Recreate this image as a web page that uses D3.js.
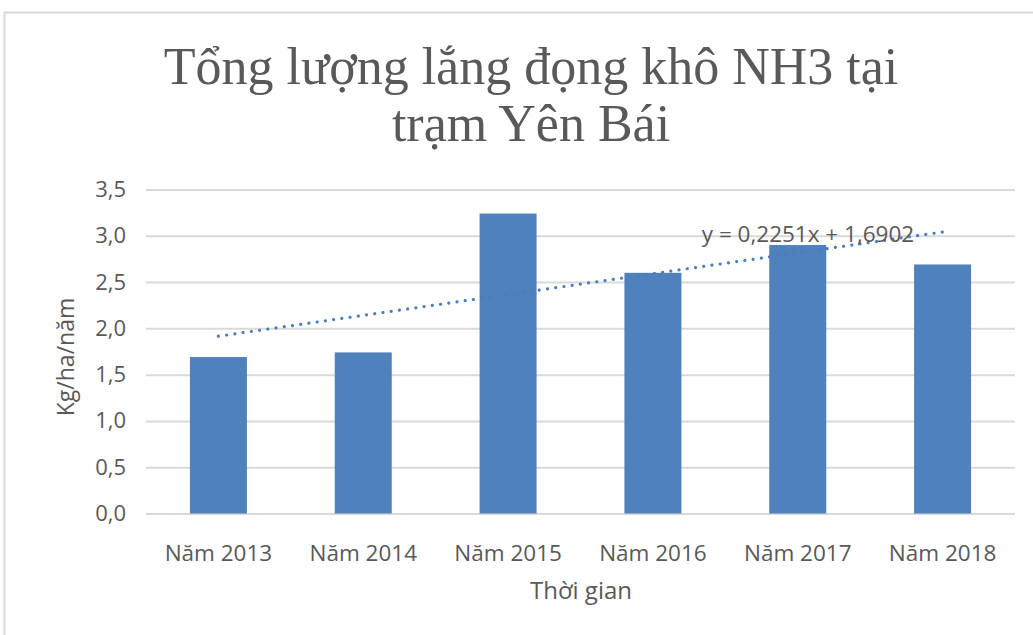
<!DOCTYPE html>
<html>
<head>
<meta charset="utf-8">
<script src="https://cdn.jsdelivr.net/npm/d3@7"></script>
<style>
  body { margin: 0; background: #fff; }
  svg { display: block; }
</style>
</head>
<body>
<div class="chart"></div>
<script>
// data
const categories = ["Năm 2013", "Năm 2014", "Năm 2015", "Năm 2016", "Năm 2017", "Năm 2018"];
const values = [1.69, 1.74, 3.24, 2.60, 2.90, 2.69];
const yTicks = [0, 0.5, 1, 1.5, 2, 2.5, 3, 3.5];
const titleLines = ["Tổng lượng lắng đọng khô NH3 tại", "trạm Yên Bái"];
const trendSlope = 0.2251, trendIntercept = 1.6902;

const width = 1033, height = 635;
const margin = { top: 189.5, right: 18, bottom: 121.5, left: 146 };
const w = width - margin.left - margin.right,
  h = height - margin.top - margin.bottom;

const textColor = "#595959";
const sans = "'Open Sans', sans-serif";

let svg = d3
  .select(".chart")
  .append("svg")
  .attr("width", width)
  .attr("height", height);

// chart frame (only top/left edges visible in the crop)
svg.append("rect")
  .attr("x", 4.5).attr("y", 12.5)
  .attr("width", width + 20).attr("height", height + 20)
  .attr("fill", "#fff")
  .attr("stroke", "#d9d9d9")
  .attr("stroke-width", 2);

// title
svg.append("g")
  .selectAll("text")
  .data(titleLines)
  .enter()
  .append("text")
  .attr("x", 531)
  .attr("y", (d, i) => 84 + i * 57)
  .attr("text-anchor", "middle")
  .attr("font-family", "'Liberation Serif', 'Times New Roman', serif")
  .attr("font-size", 52)
  .attr("fill", textColor)
  .text(d => d);

let g = svg.append("g")
  .attr("transform", "translate(" + margin.left + "," + margin.top + ")");

const xc = d3.scaleBand().domain(categories).range([0, w]);
const y = d3.scaleLinear().domain([0, 3.5]).range([h, 0]);

const fmt = d => d3.format(".1f")(d).replace(".", ",");

// gridlines + y labels
const yAxis = d3.axisLeft(y).tickValues(yTicks).tickSize(-w).tickPadding(20).tickFormat(fmt);
g.append("g")
  .attr("class", "y axis")
  .call(yAxis)
  .call(s => s.select(".domain").remove())
  .call(s => s.selectAll("line").attr("stroke", "#d9d9d9").attr("stroke-width", 2))
  .call(s => s.selectAll("text")
    .attr("fill", textColor)
    .attr("font-family", sans)
    .attr("font-size", 22));

// bars
g.selectAll(".bar")
  .data(values)
  .enter()
  .append("rect")
  .attr("class", "bar")
  .attr("x", (d, i) => xc(categories[i]) + xc.bandwidth() / 2 - 28.5)
  .attr("width", 57)
  .attr("y", d => y(d))
  .attr("height", d => h - y(d))
  .attr("fill", "#4f81bd");

// x labels
const xAxis = d3.axisBottom(xc).tickSize(0).tickPadding(32);
g.append("g")
  .attr("transform", "translate(0," + h + ")")
  .call(xAxis)
  .call(s => s.select(".domain").remove())
  .call(s => s.selectAll("text")
    .attr("fill", textColor)
    .attr("font-family", sans)
    .attr("font-size", 22.5));

// linear trendline
const trend = categories.map((c, i) => [xc(c) + xc.bandwidth() / 2, y(trendIntercept + trendSlope * (i + 1))]);
g.append("path")
  .attr("d", d3.line()([trend[0], trend[trend.length - 1]]))
  .attr("fill", "none")
  .attr("stroke", "#4a7ebb")
  .attr("stroke-width", 3.2)
  .attr("stroke-linecap", "round")
  .attr("stroke-dasharray", "0.01 8.3");

g.append("text")
  .attr("x", 662)
  .attr("y", 52)
  .attr("text-anchor", "middle")
  .attr("font-family", sans)
  .attr("font-size", 22.5)
  .attr("fill", textColor)
  .text("y = " + String(trendSlope).replace(".", ",") + "x + " + String(trendIntercept).replace(".", ","));

// axis titles
svg.append("text")
  .attr("transform", "translate(74,357) rotate(-90)")
  .attr("text-anchor", "middle")
  .attr("font-family", sans)
  .attr("font-size", 23)
  .attr("fill", textColor)
  .text("Kg/ha/năm");

svg.append("text")
  .attr("x", 581)
  .attr("y", 599)
  .attr("text-anchor", "middle")
  .attr("font-family", sans)
  .attr("font-size", 24)
  .attr("fill", textColor)
  .text("Thời gian");
</script>
</body>
</html>
